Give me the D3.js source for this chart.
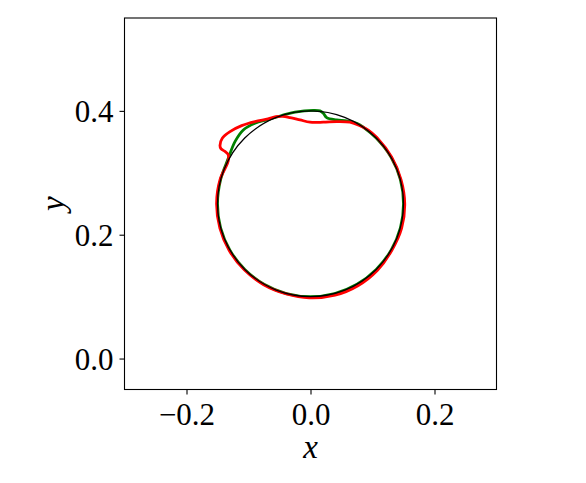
<!DOCTYPE html>
<html>
<head>
<meta charset="utf-8">
<script src="https://cdn.jsdelivr.net/npm/d3@7"></script>
<style>
	body { margin: 0; background: #fff; }
	svg { display: block; }
	.tick text { font-family: "Liberation Serif", serif; font-size: 31px; fill: #000; }
	.alabel { font-family: "Liberation Serif", serif; font-size: 33px; font-style: italic; }
</style>
</head>
<body>
<svg width="586" height="483"></svg>
<script>
// values
const xTicks = [-0.2, 0.0, 0.2];
const yTicks = [0.0, 0.2, 0.4];
const xDomain = [-0.3, 0.3];
const yDomain = [-0.05, 0.55];

// reference circle: centre and radius
const circleCenter = [0.0, 0.25];
const circleRadius = 0.15;

// green interface (deviates near the top)
const greenCurve = [
	[-0.1326, 0.3234], [-0.1218, 0.3503], [-0.1084, 0.3692], [-0.0895, 0.3801],
	[-0.0681, 0.386], [-0.0465, 0.3925], [-0.025, 0.398], [0.0045, 0.4008],
	[0.0153, 0.4], [0.0206, 0.3963], [0.0261, 0.3891], [0.0423, 0.3854],
	[0.0584, 0.3838], [0.0745, 0.3801], [0.086, 0.373], [0.106, 0.356],
	[0.13, 0.325], [0.145, 0.289], [0.15, 0.25], [0.145, 0.211],
	[0.13, 0.175], [0.106, 0.144], [0.075, 0.12], [0.039, 0.105],
	[0.0, 0.1], [-0.039, 0.105], [-0.075, 0.12], [-0.106, 0.144],
	[-0.13, 0.175], [-0.145, 0.211], [-0.15, 0.25], [-0.145, 0.289],
];

// red interface (bump on the upper left, dip on top)
const redCurve = [
	[0.152, 0.25], [0.146, 0.289], [0.131, 0.325], [0.107, 0.357],
	[0.0932, 0.369], [0.0798, 0.376], [0.0637, 0.3817], [0.0423, 0.3827],
	[0.0206, 0.3817], [-0.0008, 0.3817], [-0.0169, 0.3854], [-0.0331, 0.3891],
	[-0.045, 0.391], [-0.056, 0.3905], [-0.0685, 0.387], [-0.0895, 0.3827],
	[-0.111, 0.3762], [-0.1298, 0.3665], [-0.1423, 0.3558], [-0.146, 0.344],
	[-0.1445, 0.339], [-0.138, 0.3345], [-0.133, 0.33], [-0.132, 0.3234],
	[-0.1339, 0.3153], [-0.1459, 0.289], [-0.1515, 0.25], [-0.1462, 0.2108],
	[-0.1311, 0.1745], [-0.1068, 0.1432], [-0.0755, 0.1192], [-0.039, 0.1043],
	[-0.002, 0.098], [0.0396, 0.1022], [0.0765, 0.1175], [0.108, 0.1425],
	[0.131, 0.1745], [0.147, 0.2105],
];

class InterfacePlot {
	constructor() {
		this.svg = d3.select("svg");
		this.left = 124.5;
		this.right = 496.5;
		this.top = 18;
		this.bottom = 389.5;
		this.xScale = d3.scaleLinear().domain(xDomain).range([this.left, this.right]);
		this.yScale = d3.scaleLinear().domain(yDomain).range([this.bottom, this.top]);
		this.g = this.svg.append("g");
		this.drawCurves();
		this.drawAxes();
	}

	drawCurves = () => {
		let line = d3
			.line()
			.x((d) => this.xScale(d[0]))
			.y((d) => this.yScale(d[1]))
			.curve(d3.curveCatmullRomClosed.alpha(0.5));

		this.g
			.append("path")
			.datum(greenCurve)
			.attr("d", line)
			.attr("fill", "none")
			.attr("stroke", "#008000")
			.attr("stroke-width", 2.8);

		this.g
			.append("path")
			.datum(redCurve)
			.attr("d", line)
			.attr("fill", "none")
			.attr("stroke", "#ff0000")
			.attr("stroke-width", 2.8);

		// black circle on top
		this.g
			.append("ellipse")
			.attr("cx", this.xScale(circleCenter[0]))
			.attr("cy", this.yScale(circleCenter[1]))
			.attr("rx", this.xScale(circleRadius) - this.xScale(0))
			.attr("ry", this.yScale(0) - this.yScale(circleRadius))
			.attr("fill", "none")
			.attr("stroke", "#000")
			.attr("stroke-width", 1.3);
	};

	drawAxes = () => {
		let fmt = d3.format(".1f");
		this.g
			.append("g")
			.attr("transform", "translate(0," + this.bottom + ")")
			.call(d3.axisBottom(this.xScale).tickValues(xTicks).tickFormat(fmt).tickSize(5).tickPadding(9))
			.call((g) => g.select(".domain").remove())
			.call((g) => g.selectAll(".tick line").attr("stroke-width", 1.1))
			.call((g) => g.selectAll(".tick text").attr("dy", "0.68em"));

		this.g
			.append("g")
			.attr("transform", "translate(" + this.left + ",0)")
			.call(d3.axisLeft(this.yScale).tickValues(yTicks).tickFormat(fmt).tickSize(5).tickPadding(6))
			.call((g) => g.select(".domain").remove())
			.call((g) => g.selectAll(".tick line").attr("stroke-width", 1.1))
			.call((g) => g.selectAll(".tick text").attr("dy", "0.34em"));

		// frame
		this.g
			.append("rect")
			.attr("x", this.left)
			.attr("y", this.top)
			.attr("width", this.right - this.left)
			.attr("height", this.bottom - this.top)
			.attr("fill", "none")
			.attr("stroke", "#000")
			.attr("stroke-width", 1.1);

		this.g
			.append("text")
			.attr("class", "alabel")
			.attr("x", (this.left + this.right) / 2)
			.attr("y", 458)
			.attr("text-anchor", "middle")
			.text("x");

		this.g
			.append("text")
			.attr("class", "alabel")
			.attr("transform", "translate(64," + this.yScale(0.25) + ") rotate(-90)")
			.attr("text-anchor", "middle")
			.text("y");
	};
}

new InterfacePlot();
</script>
</body>
</html>
